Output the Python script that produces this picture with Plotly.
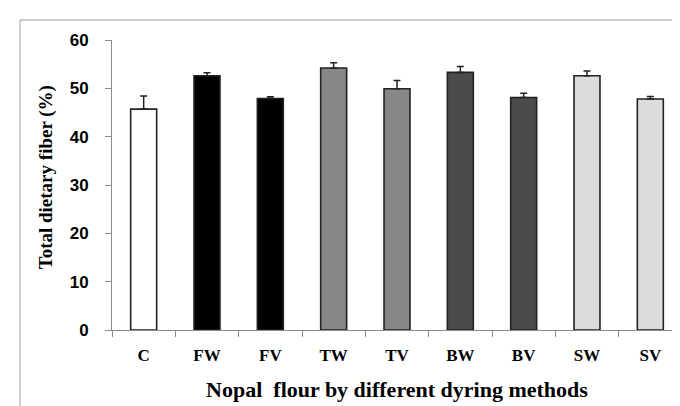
import plotly.graph_objects as go

categories = ["C", "FW", "FV", "TW", "TV", "BW", "BV", "SW", "SV"]
values = [45.7, 52.6, 47.9, 54.2, 49.9, 53.3, 48.1, 52.6, 47.8]
errors = [2.7, 0.6, 0.35, 1.1, 1.7, 1.2, 0.9, 1.0, 0.5]
bar_colors = ["#ffffff", "#000000", "#000000", "#878787", "#878787",
              "#4b4b4b", "#4b4b4b", "#dcdcdc", "#dcdcdc"]
y_ticks = [0, 10, 20, 30, 40, 50, 60]

fig = go.Figure()
fig.add_trace(go.Bar(
    x=categories, y=values,
    marker=dict(color=bar_colors, line=dict(color="#222222", width=1.6)),
    error_y=dict(type="data", symmetric=False, array=errors,
                 arrayminus=[0] * len(errors), color="#222222",
                 thickness=1.5, width=3.5),
    width=0.41,
))

fig.update_layout(
    width=680, height=406,
    margin=dict(l=104, r=6, t=32, b=84),
    paper_bgcolor="white", plot_bgcolor="white",
    showlegend=False,
    shapes=[dict(type="rect", xref="paper", yref="paper",
                 x0=-92 / 570, x1=1.1, y0=-95 / 290, y1=1 + 20 / 290,
                 line=dict(color="#a0a0a0", width=1), layer="below")],
    annotations=[dict(text="Total dietary fiber (%)", textangle=-90,
                      xref="paper", yref="y", x=-66 / 570, y=31.6,
                      xanchor="center", yanchor="middle", showarrow=False,
                      font=dict(family="Liberation Serif", size=19,
                                color="black", weight="bold"))],
)
fig.update_xaxes(
    showline=True, linecolor="#8c8c8c", linewidth=1,
    ticks="outside", tickson="boundaries", ticklen=6, tickcolor="#8c8c8c",
    ticklabelstandoff=10,
    tickfont=dict(family="Liberation Serif", size=17, color="black", weight="bold"),
    title=dict(text="Nopal  flour by different dyring methods",
               font=dict(family="Liberation Serif", size=22, color="black", weight="bold"),
               standoff=17),
    showgrid=False,
)
fig.update_yaxes(
    range=[0, 60], tickvals=y_ticks,
    showline=True, linecolor="#8c8c8c", linewidth=1,
    ticks="outside", ticklen=6, tickcolor="#8c8c8c",
    ticklabelstandoff=13,
    tickfont=dict(family="Liberation Sans", size=17, color="black", weight="bold"),
    showgrid=False, zeroline=False,
)

fig.write_html("out.html")
